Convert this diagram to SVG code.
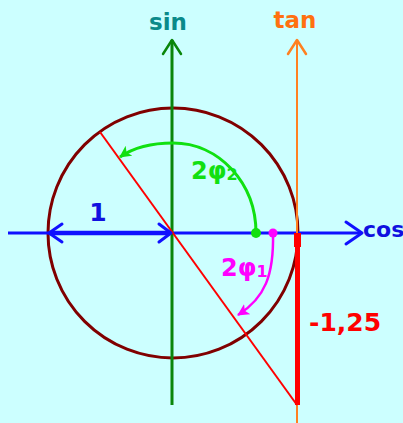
<svg xmlns="http://www.w3.org/2000/svg" width="403" height="423" viewBox="0 0 403 423">
<style>
text{font-family:"DejaVu Sans","Liberation Sans",sans-serif;font-weight:bold}
.vee{fill:none;stroke-linecap:round;stroke-linejoin:round}
</style>
<defs>
<marker id="gTip" viewBox="0 0 12 12" refX="11" refY="6" markerWidth="12" markerHeight="12" markerUnits="userSpaceOnUse" orient="auto">
<path d="M0,0 L12,6 L0,12 L3,6 Z" fill="#11e011"/>
</marker>
<marker id="mTip" viewBox="0 0 12 12" refX="11" refY="6" markerWidth="12" markerHeight="12" markerUnits="userSpaceOnUse" orient="auto">
<path d="M0,0 L12,6 L0,12 L3,6 Z" fill="#ff00ff"/>
</marker>
</defs>
<rect width="403" height="423" fill="#ccffff"/>
<g id="circle"><circle cx="173" cy="233" r="125" fill="none" stroke="#800000" stroke-width="3"/></g>
<g id="connectors">
<line x1="8" y1="233" x2="362" y2="233" stroke="#1010ff" stroke-width="3"/>
<path class="vee" d="M346,222 L362,233 L346,244" stroke="#1010ff" stroke-width="3"/>
<line x1="172" y1="40" x2="172" y2="405" stroke="#0a860a" stroke-width="3"/>
<path class="vee" d="M163,54 L172,40 L181,54" stroke="#0a860a" stroke-width="2.5"/>
<line x1="297" y1="40" x2="297" y2="423" stroke="#ff8020" stroke-width="2"/>
<path class="vee" d="M288,54 L297,40 L306,54" stroke="#ff8020" stroke-width="2.5"/>
<line x1="100" y1="132" x2="297" y2="405" stroke="#ff0000" stroke-width="2"/>
<rect x="294" y="233" width="7" height="14" fill="#ff0000"/>
<rect x="295" y="233" width="5" height="172" fill="#ff0000"/>
<line x1="50" y1="233" x2="170" y2="233" stroke="#1010ff" stroke-width="4.5"/>
<path class="vee" d="M62,224 L49,233 L62,242" stroke="#1010ff" stroke-width="3"/>
<path class="vee" d="M159,224 L171,233 L159,242" stroke="#1010ff" stroke-width="3"/>
<path d="M256,233 C256,183 219,143 173,143 C150,143 133,148 120,157" fill="none" stroke="#11e011" stroke-width="3" marker-end="url(#gTip)"/>
<circle cx="256" cy="233" r="5" fill="#11e011"/>
<path d="M273,233 C274,275 265,298 238,315" fill="none" stroke="#ff00ff" stroke-width="2.5" marker-end="url(#mTip)"/>
<circle cx="273" cy="233" r="4.5" fill="#ff00ff"/>
</g>
<g id="labels">
<text x="168" y="30" font-size="23" fill="#0a8a8a" text-anchor="middle">sin</text>
<text x="295" y="28" font-size="23" fill="#ff7010" text-anchor="middle">tan</text>
<text x="363" y="237" font-size="22" fill="#1010e0">cos</text>
<text x="98" y="221" font-size="25" fill="#1010e0" text-anchor="middle">1</text>
<text x="191" y="179" font-size="24" fill="#11e011">2φ<tspan font-size="16" dy="1">2</tspan></text>
<text x="221" y="276" font-size="24" fill="#ff00ff">2φ<tspan font-size="16" dy="1">1</tspan></text>
<text x="309" y="331" font-size="25" fill="#ff0000">-1,25</text>
</g>
</svg>
